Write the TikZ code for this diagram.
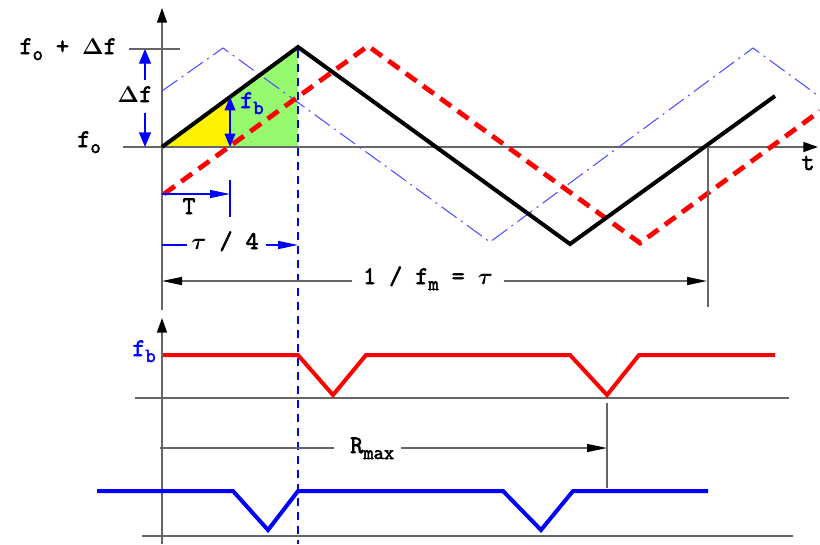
\documentclass[tikz,border=0pt]{standalone}
\usepackage{fontspec}
\newfontfamily\courf{Latin Modern Mono}[BoldFont={Latin Modern Mono}, BoldFeatures={FakeBold=2.5}]
\usetikzlibrary{arrows.meta}
\definecolor{lgreen}{RGB}{150,250,110}
\definecolor{dblue}{RGB}{80,80,255}
\newcommand\lsub[1]{\raisebox{-0.55ex}{\fontsize{15}{15}\selectfont #1}}
\newcommand\gD{{\boldmath$\Delta$}}
\newcommand\gt{{\boldmath$\tau$}}
\begin{document}
\begin{tikzpicture}[x=0.75pt,y=-0.75pt,
  lbl/.style={font=\fontsize{19}{19}\selectfont\courf\bfseries, inner sep=0pt},
  axisline/.style={draw=black!60, line width=1.1pt},
  axtip/.style={-{Triangle[length=11pt,width=7.5pt,fill=black,color=black]}},
  longtip/.style={-{Triangle[length=15pt,width=6pt,fill=black,color=black]}},
  bluetip/.style={-{Triangle[length=11pt,width=9pt]}},
  bluelong/.style={-{Triangle[length=15pt,width=6pt]}},
  blk/.style={draw=black, line width=3pt, line join=miter},
  redd/.style={draw=red, line width=3.6pt, dash pattern=on 10pt off 6pt},
  bdot/.style={draw=dblue, line width=0.8pt, dash pattern=on 14pt off 4pt on 1.5pt off 4pt},
  vdash/.style={draw=blue, line width=1pt, dash pattern=on 6pt off 4.5pt},
  thick signal/.style={line width=3pt, line join=miter}
]
\useasboundingbox (0,0) rectangle (820,544);

% ---- key coordinates
\coordinate (O) at (162,147);
\coordinate (P1) at (298,47);
\coordinate (B1) at (570,244);
\coordinate (E1) at (775,96);
\coordinate (Tq) at (230,97);
\coordinate (Tb) at (230,147);
\coordinate (Pb) at (298,147);

% ---- fills
\fill[yellow] (O) -- (Tq) -- (Tb) -- cycle;
\fill[lgreen] (Tq) -- (P1) -- (Pb) -- (Tb) -- cycle;

% ---- upper axes
\coordinate (ybot) at (162,310);
\coordinate (ytop) at (162,8);
\coordinate (xl) at (123,147);
\coordinate (xr) at (818,147);
\draw[axisline, axtip] (ybot) -- (ytop);
\draw[axisline, axtip] (xl) -- (xr);
\coordinate (tk1) at (129,49);
\coordinate (tk2) at (180,49);
\draw[axisline] (tk1) -- (tk2);

% ---- blue vertical dashed
\coordinate (vd1) at (298,50);
\coordinate (vd2) at (298,544);
\draw[vdash] (vd1) -- (vd2);

% ---- waves
\draw[bdot] (162,91) -- (223,48) -- (490,242) -- (753,48) -- (820,97);
\draw[redd] (164,194) -- (368,46) -- (640,243) -- (820,111);
\draw[blk] (O) -- (P1) -- (B1) -- (E1);

% ---- labels upper
\node[lbl, anchor=base east] (lfd) at (117,54) {f\lsub{o} + \gD f};
\node[lbl, anchor=base] (ldf) at (135,102) {\gD f};
\node[lbl, anchor=base east] (lfo) at (101,147) {f\lsub{o}};
\node[lbl, anchor=base west, text=blue] (lfb) at (240,108) {f\lsub{b}};
\node[lbl, anchor=base] (lt) at (808,170) {t};

% Delta f arrows
\coordinate (df1) at (145,80);
\coordinate (df2) at (145,49);
\coordinate (df3) at (145,113);
\coordinate (df4) at (145,147);
\draw[blue, line width=1pt, bluetip] (df1) -- (df2);
\draw[blue, line width=1pt, bluetip] (df3) -- (df4);

% f_b arrow
\draw[blue, line width=1pt, {Triangle[length=10pt,width=8pt]}-{Triangle[length=10pt,width=8pt]}] (Tq) -- (Tb);

% T arrow
\coordinate (Ts) at (162,194);
\coordinate (Te) at (230,194);
\coordinate (Tt1) at (230,180);
\coordinate (Tt2) at (230,217);
\draw[blue, line width=1pt, bluelong] (Ts) -- (Te);
\draw[blue, line width=1pt] (Tt1) -- (Tt2);
\node[lbl, anchor=base] (lT) at (189,214) {T};

% tau/4 arrow
\node[lbl, anchor=base] (ltau4) at (225,249) {\gt{} / 4};
\coordinate (q1) at (162,245);
\coordinate (q2) at (298,245);
\draw[blue, line width=1pt] (q1) -- ([xshift=-3pt]ltau4.west |- q1);
\draw[blue, line width=1pt, bluelong] ([xshift=5pt]ltau4.east |- q1) -- (q2);

% 1/fm arrow
\node[lbl, anchor=base] (lfm) at (428,284) {1 / f\lsub{m} = \gt};
\coordinate (m1) at (162,281);
\coordinate (m2) at (707,281);
\draw[axisline, longtip] ([xshift=-8pt]lfm.west |- m1) -- (m1);
\draw[axisline, longtip] ([xshift=8pt]lfm.east |- m1) -- (m2);
\coordinate (mv1) at (708,147);
\coordinate (mv2) at (708,307);
\draw[axisline] (mv1) -- (mv2);

% ---- lower plot axes
\coordinate (ly1) at (162,544);
\coordinate (ly2) at (162,318);
\draw[axisline, axtip] (ly1) -- (ly2);
\coordinate (bl1) at (135,398);
\coordinate (bl2) at (789,398);
\draw[axisline] (bl1) -- (bl2);
\coordinate (bl3) at (142,536);
\coordinate (bl4) at (793,536);
\draw[axisline] (bl3) -- (bl4);

% red f_b signal
\draw[red, thick signal] (163,355) -- (298,355) -- (333,395) -- (366,355) -- (570,355) -- (607,395) -- (639,355) -- (775,355);
\node[lbl, anchor=base east, text=blue] (lfb2) at (156,356) {f\lsub{b}};

% blue signal
\draw[blue, thick signal] (97,491) -- (233,491) -- (268,530) -- (298,491) -- (503,491) -- (541,530) -- (573,491) -- (708,491);

% R_max arrow
\node[lbl, anchor=base west] (lr) at (350,453) {R\lsub{max}};
\coordinate (r1) at (160,448);
\coordinate (r2) at (607,448);
\draw[axisline] (r1) -- ([xshift=-12pt]lr.west |- r1);
\draw[axisline, longtip] ([xshift=5pt]lr.east |- r1) -- (r2);
\coordinate (rv1) at (607,403);
\coordinate (rv2) at (607,488);
\draw[axisline] (rv1) -- (rv2);
\end{tikzpicture}
\end{document}
